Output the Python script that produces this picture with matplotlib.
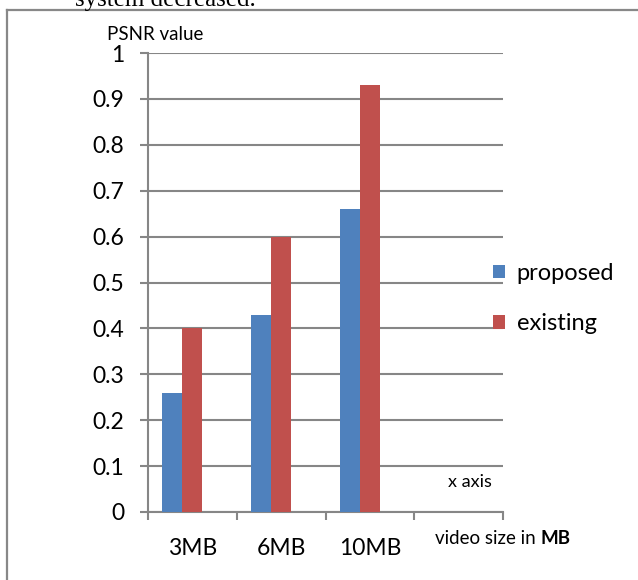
import matplotlib
matplotlib.use('Agg')
import matplotlib.pyplot as plt
from matplotlib.lines import Line2D
import numpy as np

plt.rcParams['font.family'] = ['Lato', 'DejaVu Sans']

# --- data ---
categories = ['3MB', '6MB', '10MB', '']
proposed = [0.26, 0.43, 0.66]
existing = [0.40, 0.60, 0.93]
y_ticks = [0, 0.1, 0.2, 0.3, 0.4, 0.5, 0.6, 0.7, 0.8, 0.9, 1]

blue = '#4F81BD'
red = '#C0504D'
grey = '#868686'

W, H = 638, 580
fig = plt.figure(figsize=(W / 100, H / 100), dpi=100)
ax = fig.add_axes([148 / W, 1 - 512 / H, (503 - 148) / W, (512 - 53) / H])

# excel-style cluster: three slots per category, third one left empty
bar_w = 0.225
x = np.arange(len(proposed)) + 0.5
b1 = ax.bar(x - bar_w, proposed, bar_w, color=blue, label='proposed', zorder=3)
b2 = ax.bar(x, existing, bar_w, color=red, label='existing', zorder=3)

ax.set_xlim(0, 4)
ax.set_ylim(0, 1)
ax.set_yticks(y_ticks)
ax.set_yticklabels([f'{v:g}' for v in y_ticks])
ax.yaxis.grid(True, color=grey, linewidth=1.5, zorder=0)

# category boundaries as major ticks, names as minor ticks
ax.set_xticks(np.arange(5))
ax.set_xticklabels([])
ax.set_xticks(np.arange(4) + 0.5, minor=True)
ax.set_xticklabels(categories, minor=True)
ax.tick_params(axis='x', which='major', direction='out', length=6, width=1.5, color=grey)
ax.tick_params(axis='x', which='minor', length=0, pad=19, labelsize=16.5)
ax.tick_params(axis='y', direction='out', length=6, width=1.5, color=grey, pad=11, labelsize=16.5)

for s in ['top', 'right']:
    ax.spines[s].set_visible(False)
for s in ['left', 'bottom']:
    ax.spines[s].set_color(grey)
    ax.spines[s].set_linewidth(1.5)

ax.text(3.63, 0.065, 'x axis', ha='center', va='center', fontsize=13)
fig.text(107 / W, 1 - 34 / H, 'PSNR value', ha='left', va='center', fontsize=13.5)

t1 = fig.text(435 / W, 1 - 539 / H, 'video size in ', ha='left', va='center', fontsize=13.5)
ax.annotate('MB', xy=(1, 0), xycoords=t1, va='bottom', ha='left',
            fontsize=13.5, fontweight='bold')

fig.legend(handles=[b1, b2], loc='center left', bbox_to_anchor=(493 / W, 1 - 298.5 / H),
           frameon=False, fontsize=17, handlelength=0.5, handleheight=0.5,
           handletextpad=0.5, borderpad=0, borderaxespad=0, labelspacing=1.25)

# page text above the figure and the surrounding frame
fig.text(75 / W, 1 - 6 / H, 'system decreased.', ha='left', va='baseline',
         fontsize=18, family='Liberation Serif')
fig.add_artist(Line2D([7 / W, 7 / W], [0, 1 - 10 / H], color='#888888', lw=1.6,
                      transform=fig.transFigure))
fig.add_artist(Line2D([7 / W, 1], [1 - 10 / H, 1 - 10 / H], color='#888888', lw=1.6,
                      transform=fig.transFigure))

fig.savefig('out.png', dpi=100)
